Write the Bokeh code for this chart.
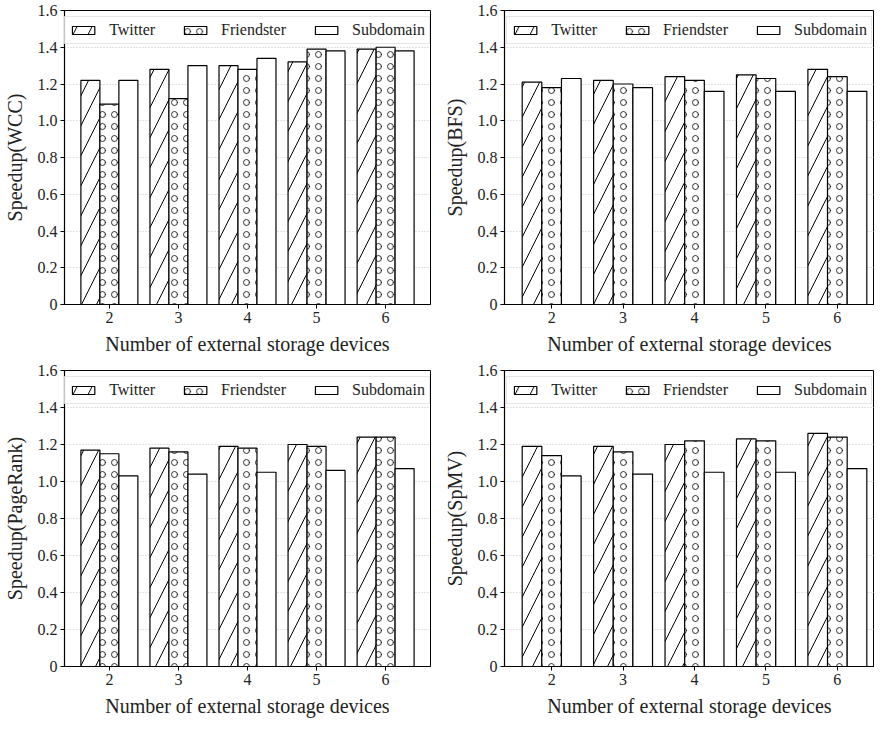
from bokeh.plotting import figure
from bokeh.models import (Range1d, FixedTicker, CustomJSTickFormatter, Legend, LegendItem,
                          ColumnDataSource)
from bokeh.layouts import column, row
from bokeh.embed import file_html
from bokeh.resources import INLINE

devices = [2, 3, 4, 5, 6]
series_names = ["Twitter", "Friendster", "Subdomain"]

wcc_twitter = [1.22, 1.28, 1.30, 1.32, 1.39]
wcc_friendster = [1.09, 1.12, 1.28, 1.39, 1.40]
wcc_subdomain = [1.22, 1.30, 1.34, 1.38, 1.38]

bfs_twitter = [1.21, 1.22, 1.24, 1.25, 1.28]
bfs_friendster = [1.18, 1.20, 1.22, 1.23, 1.24]
bfs_subdomain = [1.23, 1.18, 1.16, 1.16, 1.16]

pr_twitter = [1.17, 1.18, 1.19, 1.20, 1.24]
pr_friendster = [1.15, 1.16, 1.18, 1.19, 1.24]
pr_subdomain = [1.03, 1.04, 1.05, 1.06, 1.07]

spmv_twitter = [1.19, 1.19, 1.20, 1.23, 1.26]
spmv_friendster = [1.14, 1.16, 1.22, 1.22, 1.24]
spmv_subdomain = [1.03, 1.04, 1.05, 1.05, 1.07]

y_ticks = [0, 0.2, 0.4, 0.6, 0.8, 1.0, 1.2, 1.4, 1.6]
x_label = "Number of external storage devices"

FONT = "Liberation Serif"
BAR_W = 0.275
OFFSETS = [-BAR_W, 0.0, BAR_W]
HATCHES = ["/", "o", None]
HATCH_SCALES = [30, 12, 12]
HATCH_WEIGHTS = [1.0, 0.8, 1.0]


def make_panel(ylabel, series, width, height, xr, borders):
    bl, br, bt, bb = borders
    p = figure(width=width, height=height, output_backend="svg", toolbar_location=None,
               x_range=Range1d(*xr), y_range=Range1d(0, 1.6),
               min_border_left=bl, min_border_right=br, min_border_top=bt, min_border_bottom=bb)
    p.background_fill_color = "white"
    p.border_fill_color = "white"
    p.outline_line_color = "black"
    p.outline_line_width = 1
    p.outline_line_alpha = 1

    items = []
    for name, vals, off, hp, hs, hw in zip(series_names, series, OFFSETS, HATCHES,
                                           HATCH_SCALES, HATCH_WEIGHTS):
        src = ColumnDataSource(dict(x=[d + off for d in devices], top=vals))
        kw = {}
        if hp:
            kw = dict(hatch_pattern=hp, hatch_color="black", hatch_weight=hw, hatch_scale=hs)
        r = p.vbar(x="x", top="top", width=BAR_W, bottom=0, source=src,
                   fill_color="white", line_color="black", line_width=1.2, **kw)
        items.append(LegendItem(label=name, renderers=[r]))

    legend = Legend(items=items, orientation="horizontal", location="top_center",
                    margin=6, padding=4, spacing=26, label_standoff=12,
                    glyph_width=28, glyph_height=10, label_height=17,
                    label_text_font=FONT, label_text_font_size="16px",
                    label_text_color="#222222",
                    border_line_color="#cccccc", border_line_width=1,
                    background_fill_color="white", background_fill_alpha=0.85)
    p.add_layout(legend)

    # grid
    p.xgrid.visible = False
    p.ygrid.ticker = FixedTicker(ticks=y_ticks)
    p.ygrid.grid_line_color = "#bdbdbd"
    p.ygrid.grid_line_dash = "1 2"
    p.ygrid.grid_line_width = 0.9

    # axes
    for ax in (p.xaxis[0], p.yaxis[0]):
        ax.axis_line_color = "black"
        ax.axis_line_width = 1.2
        ax.major_tick_line_color = "black"
        ax.major_tick_in = 0
        ax.major_tick_out = 4
        ax.minor_tick_line_color = None
        ax.major_label_text_font = FONT
        ax.major_label_text_font_size = "16px"
        ax.major_label_text_color = "#222222"
        ax.axis_label_text_font = FONT
        ax.axis_label_text_font_size = "20px"
        ax.axis_label_text_font_style = "normal"
        ax.axis_label_text_color = "#222222"
        ax.major_label_standoff = 3

    p.xaxis.ticker = FixedTicker(ticks=devices)
    p.xaxis.axis_label = x_label
    p.xaxis.axis_label_standoff = 7
    p.yaxis.ticker = FixedTicker(ticks=y_ticks)
    p.yaxis.formatter = CustomJSTickFormatter(code="return tick == 0 ? '0' : tick.toFixed(1);")
    p.yaxis.axis_label = ylabel
    p.yaxis.axis_label_standoff = 9
    return p


p1 = make_panel("Speedup(WCC)", [wcc_twitter, wcc_friendster, wcc_subdomain],
                437, 360, (1.35, 6.65), (54, 7, 10, 56))
p2 = make_panel("Speedup(BFS)", [bfs_twitter, bfs_friendster, bfs_subdomain],
                437, 360, (1.34, 6.52), (67, 0, 10, 56))
p3 = make_panel("Speedup(PageRank)", [pr_twitter, pr_friendster, pr_subdomain],
                437, 362, (1.35, 6.65), (54, 7, 10, 56))
p4 = make_panel("Speedup(SpMV)", [spmv_twitter, spmv_friendster, spmv_subdomain],
                437, 362, (1.34, 6.52), (67, 0, 10, 56))

layout = column(row(p1, p2), row(p3, p4))

open("out.html", "w").write(file_html(layout, INLINE))
